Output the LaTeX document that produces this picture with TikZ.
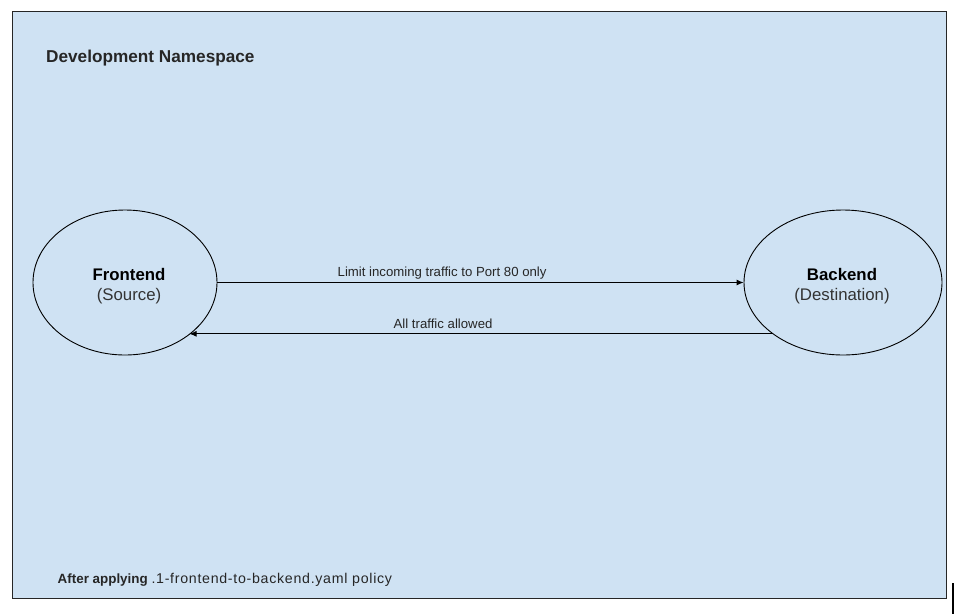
\documentclass[tikz,border=0pt]{standalone}
\usepackage{fontspec}
\setmainfont{Liberation Sans}
\usetikzlibrary{shapes.geometric,arrows.meta}
\definecolor{nsfill}{HTML}{CFE2F3}
\definecolor{nsline}{HTML}{262626}
\tikzset{
  nsbox/.style={draw=nsline,fill=nsfill,line width=1.2pt},
  podnode/.style={ellipse,draw=black,line width=0.9pt,minimum height=145pt,inner sep=0pt},
  podtext/.style={align=center,inner sep=0pt,font=\fontsize{16.8pt}{21pt}\selectfont},
  flow/.style={draw=black,line width=0.9pt,-{Latex[length=7pt,width=6pt]}},
  flowlabel/.style={font=\fontsize{13.2pt}{15pt}\selectfont,text=black!85,inner sep=0pt},
}
\begin{document}
\begin{tikzpicture}[x=1pt,y=-1pt]
\useasboundingbox (0,0) rectangle (957,614);
\path[nsbox] (12.5,11.5) rectangle (946.5,598.5);
\fill[black] (951.5,583) rectangle (954,614);
\node[anchor=base west,inner sep=0pt,font=\bfseries\fontsize{17.2pt}{20pt}\selectfont,text=black!85] (title) at (46,62) {Development Namespace};
\node[podnode,minimum width=184pt] (fe) at (125,282.5) {};
\node[podnode,minimum width=198pt] (be) at (843,282.5) {};
\node[podtext] (fetext) at (129,286.5) {\textbf{Frontend}\\[-1pt]\textcolor{black!80}{(Source)}};
\node[podtext] (betext) at (842,286.5) {\textbf{Backend}\\[-1pt]\textcolor{black!80}{(Destination)}};
\draw[flow] (fe.east) -- node[flowlabel,above=3pt,pos=0.427] (l1) {Limit incoming traffic to Port 80 only} (be.west);
\draw[flow] (be.216.5) -- node[flowlabel,above=5pt,pos=0.565] (l2) {All traffic allowed} (be.216.5 -| fe.321.5);
\node[anchor=base west,inner sep=0pt,font=\fontsize{13.4pt}{16pt}\selectfont,text=black!85] (foot) at (57.5,583.3) {\textbf{After applying} {\fontsize{14.2pt}{16pt}\selectfont\addfontfeature{LetterSpace=5}.1-frontend-to-backend.yaml policy}};
\end{tikzpicture}
\end{document}
